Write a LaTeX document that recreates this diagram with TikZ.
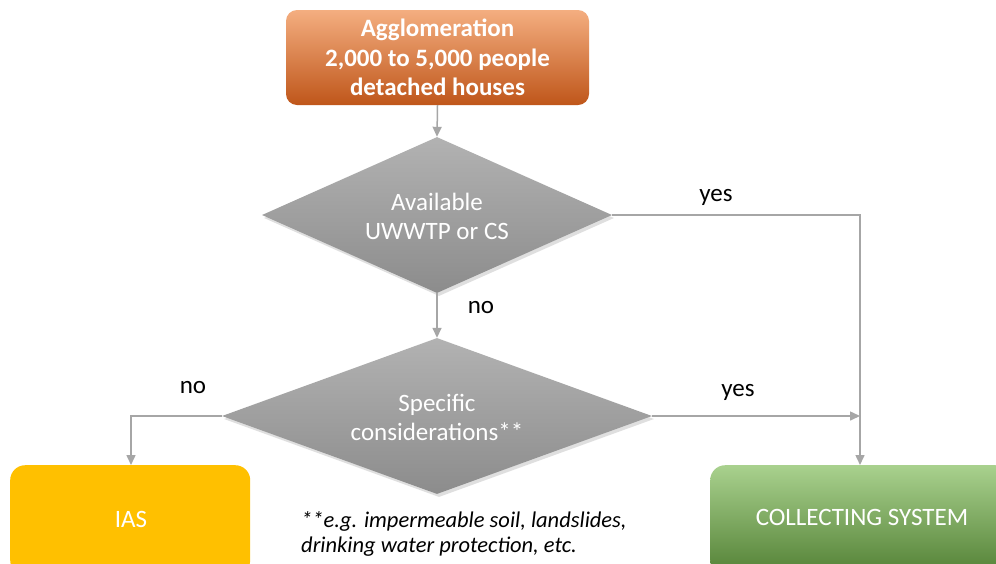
\documentclass[tikz,border=0pt]{standalone}
\usepackage{fontspec}
\setmainfont{Carlito}
\usetikzlibrary{shapes.geometric,arrows.meta,shadows}
\definecolor{oTop}{HTML}{F4AE80}
\definecolor{oMid}{HTML}{EA7B36}
\definecolor{oBot}{HTML}{BF561A}
\definecolor{gTop}{HTML}{B2B2B2}
\definecolor{gBot}{HTML}{8C8C8C}
\definecolor{grTop}{HTML}{A9D18E}
\definecolor{grMid}{HTML}{72AE48}
\definecolor{grBot}{HTML}{538135}
\definecolor{iasY}{HTML}{FFC000}
\definecolor{lineG}{HTML}{A6A6A6}
\tikzset{
  x=1pt, y=-1pt,
  topbox/.style={rectangle, rounded corners=11pt, minimum width=303pt, minimum height=95pt,
    top color=oTop, middle color=oMid, bottom color=oBot, text=white, align=center, inner sep=0pt,
    font=\fontsize{25}{29.5}\selectfont\bfseries},
  decision/.style={diamond, inner sep=0pt, top color=gTop, bottom color=gBot,
    drop shadow={opacity=0.25, shadow xshift=2pt, shadow yshift=-3pt}},
  dtext/.style={text=white, align=center, font=\fontsize{25}{29}\selectfont, inner sep=0pt},
  iasbox/.style={rectangle, rounded corners=15pt, minimum width=240pt, minimum height=110pt,
    fill=iasY},
  csbox/.style={rectangle, rounded corners=15pt, minimum width=300pt, minimum height=110pt,
    top color=grTop, middle color=grMid, bottom color=grBot},
  btext/.style={text=white, font=\fontsize{25}{29}\selectfont, inner sep=0pt},
  conn/.style={draw=lineG, line width=1.5pt},
  arr/.style={conn, -{Triangle[length=10pt,width=9pt]}},
  lbl/.style={font=\fontsize{25}{29}\selectfont, text=black, inner sep=0pt}
}
\begin{document}
\begin{tikzpicture}
\clip (0,0) rectangle (996,563);
\fill[white] (0,0) rectangle (996,563);
\node[topbox] (agg) at (437.5,57.5) {Agglomeration\\2,000 to 5,000 people\\detached houses};
\node[decision, minimum width=350pt, minimum height=156pt] (d1) at (437,215) {};
\node[dtext] (d1t) at (437,216) {Available\\UWWTP or CS};
\node[decision, minimum width=430pt, minimum height=156pt] (d2) at (437,416) {};
\node[dtext] (d2t) at (437,417) {Specific\\considerations**};
\node[iasbox, anchor=north west] (ias) at (10,465) {};
\node[btext] (iastxt) at (131,519) {IAS};
\node[csbox, anchor=north west] (cs) at (710,465) {};
\node[btext] (cstxt) at (862,517) {COLLECTING SYSTEM};
\coordinate (csin) at (860,465);
\coordinate (iasin) at (131,465);
\coordinate (join) at (860,416);
\draw[arr] (agg.south) -- (d1.north);
\draw[arr] (d1.south) -- (d2.north);
\draw[arr] (d1.east) -| (csin);
\draw[arr] (d2.east) -- (join);
\draw[arr] (d2.west) -| (iasin);
\node[lbl] (y1) at (716,197) {yes};
\node[lbl] (n1) at (481,308) {no};
\node[lbl] (n2) at (193,388) {no};
\node[lbl] (y2) at (738,392) {yes};
\node[anchor=west, align=left, font=\fontsize{22.5}{25}\selectfont\itshape, inner sep=0pt] (note) at (301,534)
  {**e.g. impermeable soil, landslides,\\drinking water protection, etc.};
\end{tikzpicture}
\end{document}
